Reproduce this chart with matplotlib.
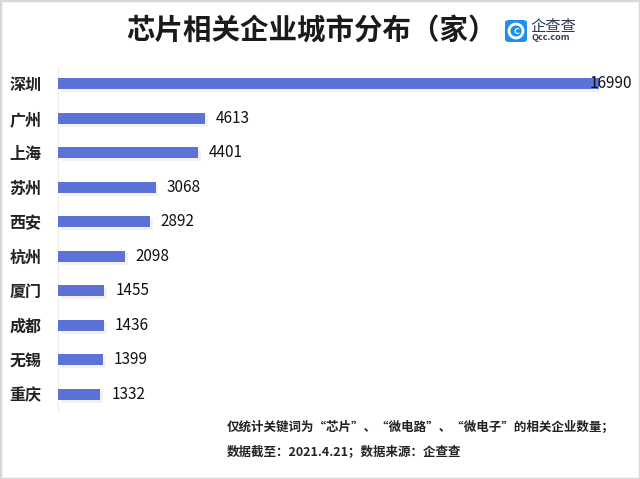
import matplotlib
matplotlib.use("Agg")
import matplotlib.pyplot as plt
from matplotlib.patches import FancyBboxPatch, Circle, Rectangle
import matplotlib.patheffects as pe

plt.rcParams['font.family'] = ['Noto Sans CJK SC', 'DejaVu Sans']

cities = ["深圳", "广州", "上海", "苏州", "西安", "杭州", "厦门", "成都", "无锡", "重庆"]
counts = [16990, 4613, 4401, 3068, 2892, 2098, 1455, 1436, 1399, 1332]

title = "芯片相关企业城市分布（家）"
note1 = "仅统计关键词为“芯片”、“微电路”、“微电子”的相关企业数量；"
note2 = "数据截至：2021.4.21；数据来源：企查查"

W, H = 640, 479
fig = plt.figure(figsize=(W / 100, H / 100), dpi=100)

# axes placed in pixel terms
x0, x1 = 58, 599
y_top, y_bot = 66.5, 411.5
ax = fig.add_axes([x0 / W, 1 - y_bot / H, (x1 - x0) / W, (y_bot - y_top) / H])

ypos = list(range(len(cities)))
bars = ax.barh(ypos, counts, height=0.33, color="#5d72d6", zorder=3,
               path_effects=[pe.SimplePatchShadow(offset=(2, -2), shadow_rgbFace="#e6e6e6", alpha=0.5),
                             pe.Normal()])
ax.set_xlim(0, max(counts))
ax.set_ylim(len(cities) - 0.5, -0.5)

for sp in ["top", "right", "bottom"]:
    ax.spines[sp].set_visible(False)
ax.spines["left"].set_color("#eeeeee")
ax.spines["left"].set_linewidth(0.8)
ax.set_xticks([])
ax.set_yticks(ypos)
ax.set_yticklabels(cities, fontsize=11.5, fontweight="bold", color="#222222")
ax.tick_params(axis="y", length=0, pad=12)

xmax = max(counts)
for y, v in zip(ypos, counts):
    xt = v + xmax * 0.02
    if v == xmax:
        xt = v - xmax * 0.017
    ax.text(xt, y, f"{v}", va="center", ha="left", fontsize=11, color="#111111",
            fontweight="medium", clip_on=False, zorder=4)

fig.text(311 / W, 1 - 31 / H, title, ha="center", va="center", fontsize=20.5,
         fontweight="bold", color="#1a1a1a")

# logo
lx, ly, ls = 505 / W, 1 - 42 / H, 22
logo = FancyBboxPatch((lx, ly), ls / W, ls / H, boxstyle="round,pad=0,rounding_size=0.006",
                      transform=fig.transFigure, facecolor="#1f8ef1", edgecolor="none")
fig.patches.append(logo)
cx, cy = (505 + 11) / W, 1 - 31 / H
fig.patches.append(Circle((505 + 11, H - 31), 7, transform=None, facecolor="none",
                          edgecolor="white", linewidth=2))
fig.text(cx, cy, "C", ha="center", va="center", fontsize=6.5, fontweight="bold", color="white")
fig.text(530 / W, 1 - 26 / H, "企查查", ha="left", va="center", fontsize=11, color="#2b3a55")
fig.text(531 / W, 1 - 38 / H, "Qcc.com", ha="left", va="center", fontsize=6.5, color="#2b3a55",
         fontweight="bold")

fig.text(227 / W, 1 - 427 / H, note1, ha="left", va="center", fontsize=9, fontweight="bold",
         color="#222222")
fig.text(227 / W, 1 - 452 / H, note2, ha="left", va="center", fontsize=9, fontweight="bold",
         color="#222222")

# thin gray frame around the picture
fig.patches.append(Rectangle((0, 0), 1, 1, transform=fig.transFigure, facecolor="none",
                             edgecolor="#d9d9d9", linewidth=2.5))

fig.savefig("out.png", dpi=100)
